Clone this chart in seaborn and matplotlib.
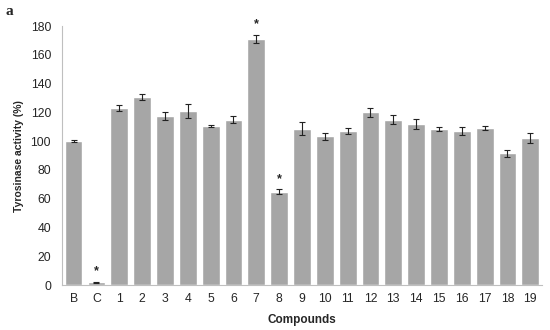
import matplotlib
matplotlib.use("Agg")
import matplotlib.pyplot as plt
import seaborn as sns
import pandas as pd
import numpy as np

categories = ["B", "C", "1", "2", "3", "4", "5", "6", "7", "8", "9", "10",
              "11", "12", "13", "14", "15", "16", "17", "18", "19"]
activity = [100, 2, 123, 130.5, 117.5, 121, 110.5, 115, 171, 65, 108.5, 103.5,
            107, 120, 115, 112, 108.5, 107, 109, 91.5, 102.5]
errors = [0.5, 0.5, 2, 2, 2.5, 5, 0.7, 2.5, 3, 1.5, 4.5, 2.5,
          2, 3, 3, 3.5, 1.2, 3, 1.5, 2.5, 3.5]
significant = ["C", "7", "8"]
yticks = [0, 20, 40, 60, 80, 100, 120, 140, 160, 180]

df = pd.DataFrame({"Compounds": categories, "Activity": activity, "err": errors})

sns.set_style("white")
plt.rcParams["font.family"] = ["Liberation Sans", "DejaVu Sans"]

fig = plt.figure(figsize=(5.5, 3.3), dpi=100)
ax = fig.add_axes([0.113, 0.136, 0.872, 0.785])

sns.barplot(data=df, x="Compounds", y="Activity", color="#a6a6a6",
            width=0.78, errorbar=None, ax=ax, saturation=1)
xs = np.arange(len(categories))
ax.errorbar(xs, activity, yerr=errors, fmt="none", ecolor="#222222",
            elinewidth=0.8, capsize=2.2, capthick=0.8)

for i, c in enumerate(categories):
    if c in significant:
        ax.text(i, activity[i] + errors[i] + 7, "*", ha="center", va="center",
                fontsize=9, fontweight="bold", clip_on=False)

ax.set_xlim(-0.5, len(categories) - 0.5)
ax.set_ylim(0, 180)
ax.set_yticks(yticks)
ax.set_yticklabels([str(t) for t in yticks], fontsize=8.8)
ax.set_xticks(xs)
ax.set_xticklabels(categories, fontsize=8.8)
ax.set_xticks(np.arange(-0.5, len(categories), 1.0), minor=True)
ax.tick_params(axis="x", which="major", length=0, pad=6)
ax.tick_params(axis="x", which="minor", length=3, color="#bfbfbf", width=0.8)
ax.tick_params(axis="y", length=3, color="#bfbfbf", width=0.8, pad=5)

for s in ["top", "right"]:
    ax.spines[s].set_visible(False)
for s in ["left", "bottom"]:
    ax.spines[s].set_color("#bfbfbf")
    ax.spines[s].set_linewidth(0.8)

ax.set_xlabel("Compounds", fontsize=8.5, fontweight="bold", labelpad=6)
ax.set_ylabel("Tyrosinase activity (%)", fontsize=7.5, fontweight="bold", labelpad=5)

fig.text(0.01, 0.985, "a", fontsize=11, fontweight="bold",
         family=["Liberation Serif", "DejaVu Serif"], va="top", ha="left")

fig.savefig("out.png", dpi=100)
